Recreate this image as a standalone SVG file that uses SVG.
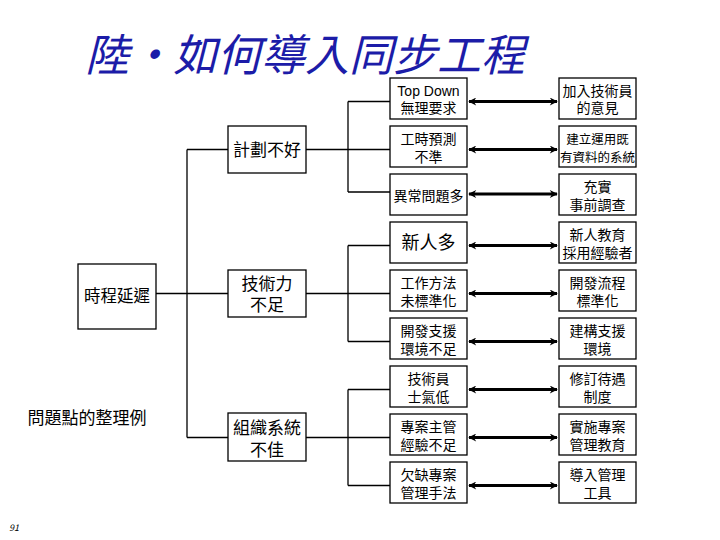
<svg xmlns="http://www.w3.org/2000/svg" width="720" height="540" viewBox="0 0 720 540">
<style>
text{font-family:"Noto Sans CJK TC","Liberation Sans",sans-serif;fill:#000;text-anchor:middle}
.box{fill:#fff;stroke:#000;stroke-width:1.3}
.ln{fill:none;stroke:#000;stroke-width:1.3}
.ar{fill:none;stroke:#000;stroke-width:3;marker-start:url(#ah);marker-end:url(#ah)}
.s{font-size:14px}
.m{font-size:17px}
</style>
<defs>
<marker id="ah" viewBox="0 0 10 10" refX="9" refY="5" markerWidth="9" markerHeight="8" markerUnits="userSpaceOnUse" orient="auto-start-reverse">
<path d="M0,0 L10,5 L0,10 L3,5 z" fill="#000"/>
</marker>
</defs>
<rect width="720" height="540" fill="#fff"/>
<text x="305" y="71" style="font-size:44px;font-style:italic;fill:#1c1ca8">陸・如何導入同步工程</text>
<text x="87" y="424" class="m">問題點的整理例</text>
<text x="14" y="531" style="font-size:9px;font-style:italic">91</text>

<g id="connectors">
<path class="ln" d="M156,293.5H228 M187,149.5V437.5 M187,149.5H228 M187,437.5H228"/>
<path class="ln" d="M306,149.5H390 M348,101.5V192 M348,101.5H390 M348,192H390"/>
<path class="ln" d="M306,293.5H390 M348,245.5V341.5 M348,245.5H390 M348,341.5H390"/>
<path class="ln" d="M306,437.5H390 M348,389.5V485.5 M348,389.5H390 M348,485.5H390"/>
<path class="ar" d="M469,101.5H557"/>
<path class="ar" d="M469,149.5H557"/>
<path class="ar" d="M469,194H557"/>
<path class="ar" d="M469,245.5H557"/>
<path class="ar" d="M469,293.5H557"/>
<path class="ar" d="M469,341.5H557"/>
<path class="ar" d="M469,389.5H557"/>
<path class="ar" d="M469,437.5H557"/>
<path class="ar" d="M469,485.5H557"/>
</g>

<g id="n-root"><rect class="box" x="78" y="264" width="78" height="65"/><text x="117" y="302" style="font-size:16.5px">時程延遲</text></g>

<g id="n-plan"><rect class="box" x="228" y="126" width="78" height="47"/><text x="267" y="156" class="m">計劃不好</text></g>
<g id="n-tech"><rect class="box" x="228" y="270" width="78" height="47"/><text x="267" y="290" class="m">技術力</text><text x="267" y="311" class="m">不足</text></g>
<g id="n-org"><rect class="box" x="228" y="413" width="78" height="48"/><text x="267" y="434" class="m">組織系統</text><text x="267" y="456" class="m">不佳</text></g>

<g id="p0"><rect class="box" x="390" y="78" width="77" height="41"/><text x="428.5" y="96" class="s" style="font-family:'Liberation Sans','Noto Sans CJK TC',sans-serif">Top Down</text><text x="428.5" y="113" class="s">無理要求</text></g>
<g id="p1"><rect class="box" x="390" y="126" width="77" height="41"/><text x="428.5" y="144" class="s">工時預測</text><text x="428.5" y="162" class="s">不準</text></g>
<g id="p2"><rect class="box" x="390" y="174" width="77" height="41"/><text x="428.5" y="201" class="s">異常問題多</text></g>
<g id="p3"><rect class="box" x="390" y="222" width="77" height="41"/><text x="428.5" y="249" style="font-size:18px">新人多</text></g>
<g id="p4"><rect class="box" x="390" y="270" width="77" height="41"/><text x="428.5" y="288" class="s">工作方法</text><text x="428.5" y="306" class="s">未標準化</text></g>
<g id="p5"><rect class="box" x="390" y="318" width="77" height="41"/><text x="428.5" y="336" class="s">開發支援</text><text x="428.5" y="354" class="s">環境不足</text></g>
<g id="p6"><rect class="box" x="390" y="366" width="77" height="41"/><text x="428.5" y="384" class="s">技術員</text><text x="428.5" y="402" class="s">士氣低</text></g>
<g id="p7"><rect class="box" x="390" y="414" width="77" height="41"/><text x="428.5" y="432" class="s">專案主管</text><text x="428.5" y="450" class="s">經驗不足</text></g>
<g id="p8"><rect class="box" x="390" y="462" width="77" height="41"/><text x="428.5" y="480" class="s">欠缺專案</text><text x="428.5" y="498" class="s">管理手法</text></g>

<g id="s0"><rect class="box" x="559" y="78" width="77" height="41"/><text x="597.5" y="96" class="s">加入技術員</text><text x="597.5" y="113" class="s">的意見</text></g>
<g id="s1"><rect class="box" x="559" y="126" width="77" height="41"/><text x="597.5" y="144" style="font-size:12.5px">建立運用既</text><text x="597.5" y="162" style="font-size:12.5px">有資料的系統</text></g>
<g id="s2"><rect class="box" x="559" y="174" width="77" height="41"/><text x="597.5" y="192" class="s">充實</text><text x="597.5" y="210" class="s">事前調查</text></g>
<g id="s3"><rect class="box" x="559" y="222" width="77" height="41"/><text x="597.5" y="240" class="s">新人教育</text><text x="597.5" y="258" class="s">採用經驗者</text></g>
<g id="s4"><rect class="box" x="559" y="270" width="77" height="41"/><text x="597.5" y="288" class="s">開發流程</text><text x="597.5" y="306" class="s">標準化</text></g>
<g id="s5"><rect class="box" x="559" y="318" width="77" height="41"/><text x="597.5" y="336" class="s">建構支援</text><text x="597.5" y="354" class="s">環境</text></g>
<g id="s6"><rect class="box" x="559" y="366" width="77" height="41"/><text x="597.5" y="384" class="s">修訂待遇</text><text x="597.5" y="402" class="s">制度</text></g>
<g id="s7"><rect class="box" x="559" y="414" width="77" height="41"/><text x="597.5" y="432" class="s">實施專案</text><text x="597.5" y="450" class="s">管理教育</text></g>
<g id="s8"><rect class="box" x="559" y="462" width="77" height="41"/><text x="597.5" y="480" class="s">導入管理</text><text x="597.5" y="498" class="s">工具</text></g>
</svg>
